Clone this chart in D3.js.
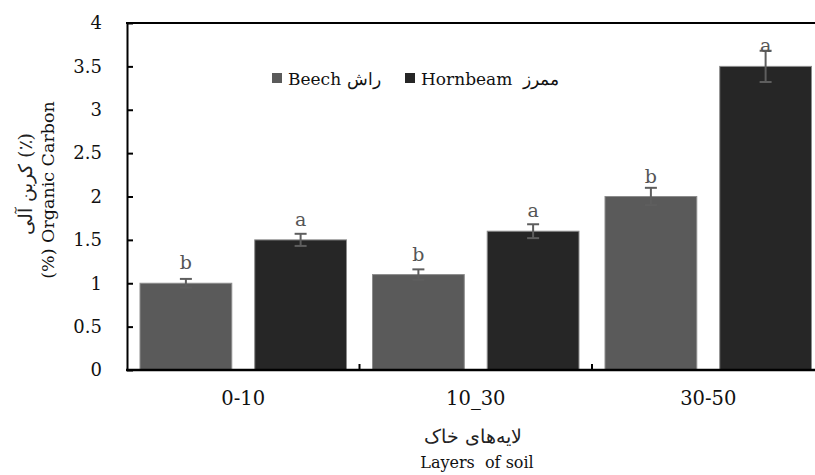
<!DOCTYPE html>
<html>
<head>
<meta charset="utf-8">
<script src="https://cdn.jsdelivr.net/npm/d3@7"></script>
<style>
  body { margin: 0; background: #fff; }
  svg { display: block; }
  svg text { font-family: "DejaVu Serif", serif; }
</style>
</head>
<body>
<div id="chart"></div>
<script>
/* Organic carbon by soil layer: Beech vs Hornbeam */

const layers = ['0-10', '10_30', '30-50'];
const seriesNames = ['Beech', 'Hornbeam'];
const seriesLabels = ['Beech راش', 'Hornbeam  ممرز'];
const beech = [1.0, 1.1, 2.0];
const hornbeam = [1.5, 1.6, 3.5];
const beechErr = [0.05, 0.06, 0.1];
const hornbeamErr = [0.07, 0.08, 0.18];
const beechLetters = ['b', 'b', 'b'];
const hornbeamLetters = ['a', 'a', 'a'];
const yTicks = [0, 0.5, 1, 1.5, 2, 2.5, 3, 3.5, 4];

const colors = { Beech: '#5a5a5a', Hornbeam: '#262626' };

function renderChart() {
  const width = 815, height = 475;
  const left = 127, top = 23, bottom = 370, right = 824.5;

  const svg = d3.select('#chart').append('svg')
    .attr('width', width).attr('height', height);

  const x0 = d3.scaleBand().domain(layers).range([left, right]).padding(0);
  const x1 = d3.scaleBand().domain(seriesNames).range([13, 219.5]).paddingInner(0.2).paddingOuter(0);
  const y = d3.scaleLinear().domain([0, 4]).range([bottom, top]);

  const rows = layers.map((l, i) => ({
    layer: l,
    bars: [
      { s: 'Beech', v: beech[i], e: beechErr[i], t: beechLetters[i] },
      { s: 'Hornbeam', v: hornbeam[i], e: hornbeamErr[i], t: hornbeamLetters[i] }
    ]
  }));

  const groups = svg.selectAll('.grp').data(rows).enter().append('g')
    .attr('transform', d => `translate(${x0(d.layer)},0)`);

  groups.selectAll('rect').data(d => d.bars).enter().append('rect')
    .attr('x', d => x1(d.s))
    .attr('y', d => y(d.v))
    .attr('width', x1.bandwidth())
    .attr('height', d => y(0) - y(d.v))
    .attr('fill', d => colors[d.s])
    .attr('stroke', '#8c8c8c')
    .attr('stroke-width', 1);

  // error bars
  const eb = groups.selectAll('.err').data(d => d.bars).enter().append('g')
    .attr('transform', d => `translate(${x1(d.s) + x1.bandwidth() / 2},0)`)
    .attr('stroke', '#5e5e5e').attr('stroke-width', 2);
  eb.append('line').attr('x1', 0).attr('x2', 0)
    .attr('y1', d => y(d.v - d.e)).attr('y2', d => y(d.v + d.e));
  eb.append('line').attr('x1', -6).attr('x2', 6)
    .attr('y1', d => y(d.v + d.e)).attr('y2', d => y(d.v + d.e));
  eb.append('line').attr('x1', -6).attr('x2', 6)
    .attr('y1', d => y(d.v - d.e)).attr('y2', d => y(d.v - d.e));

  // significance letters
  groups.selectAll('.sig').data(d => d.bars).enter().append('text')
    .attr('x', d => x1(d.s) + x1.bandwidth() / 2)
    .attr('y', d => y(d.v) - 14)
    .attr('text-anchor', 'middle')
    .style('font-size', '19px')
    .style('fill', '#555')
    .text(d => d.t);

  // y axis (inside ticks)
  const yAxis = svg.append('g').attr('transform', `translate(${left},0)`)
    .call(d3.axisLeft(y).tickValues(yTicks).tickFormat(d => d).tickSizeInner(-6).tickSizeOuter(0).tickPadding(25));
  yAxis.attr('font-family', null);
  yAxis.select('.domain').attr('stroke', '#000').attr('stroke-width', 2);
  yAxis.selectAll('.tick line').attr('stroke', '#000').attr('stroke-width', 2);
  yAxis.selectAll('text').style('font-size', '18px').style('fill', '#111');

  // x axis: labels at band centres, ticks at band boundaries
  const xAxis = svg.append('g').attr('transform', `translate(0,${bottom})`)
    .call(d3.axisBottom(x0).tickSize(0).tickPadding(21));
  xAxis.attr('font-family', null);
  xAxis.select('.domain').remove();
  xAxis.selectAll('text').style('font-size', '19.5px').style('fill', '#111');

  svg.selectAll('.xtick').data(layers.slice(1)).enter().append('line')
    .attr('x1', d => x0(d)).attr('x2', d => x0(d))
    .attr('y1', bottom).attr('y2', bottom - 6)
    .attr('stroke', '#000').attr('stroke-width', 2);

  // frame: bottom and top lines
  svg.append('line').attr('x1', left - 1).attr('x2', width).attr('y1', bottom).attr('y2', bottom)
    .attr('stroke', '#000').attr('stroke-width', 2.5);
  svg.append('line').attr('x1', left - 1).attr('x2', width).attr('y1', top).attr('y2', top)
    .attr('stroke', '#000').attr('stroke-width', 2);

  // legend
  const legX = [272, 405];
  const leg = svg.selectAll('.leg').data(seriesNames).enter().append('g')
    .attr('transform', (d, i) => `translate(${legX[i]},73)`);
  leg.append('rect').attr('width', 10).attr('height', 10).attr('fill', d => colors[d]);
  leg.append('text').attr('x', 16).attr('y', 12)
    .style('font-size', '17px').style('fill', '#111').style('white-space', 'pre')
    .text((d, i) => seriesLabels[i]);

  // axis titles
  svg.append('text').attr('transform', 'translate(32,184) rotate(-90)')
    .attr('text-anchor', 'middle').style('font-size', '19px').style('fill', '#222')
    .text('کربن آلی (٪)');
  svg.append('text').attr('transform', 'translate(54,190) rotate(-90)')
    .attr('text-anchor', 'middle').style('font-size', '17.5px').style('fill', '#111')
    .text('(%) Organic Carbon');

  svg.append('text').attr('x', 473).attr('y', 443)
    .attr('text-anchor', 'middle').style('font-size', '19px').style('fill', '#222')
    .text('لایه‌های خاک');
  svg.append('text').attr('x', 477).attr('y', 468)
    .attr('text-anchor', 'middle').style('font-size', '16px').style('fill', '#111')
    .style('white-space', 'pre')
    .text('Layers  of soil');
}

document.addEventListener('DOMContentLoaded', renderChart);
</script>
</body>
</html>
